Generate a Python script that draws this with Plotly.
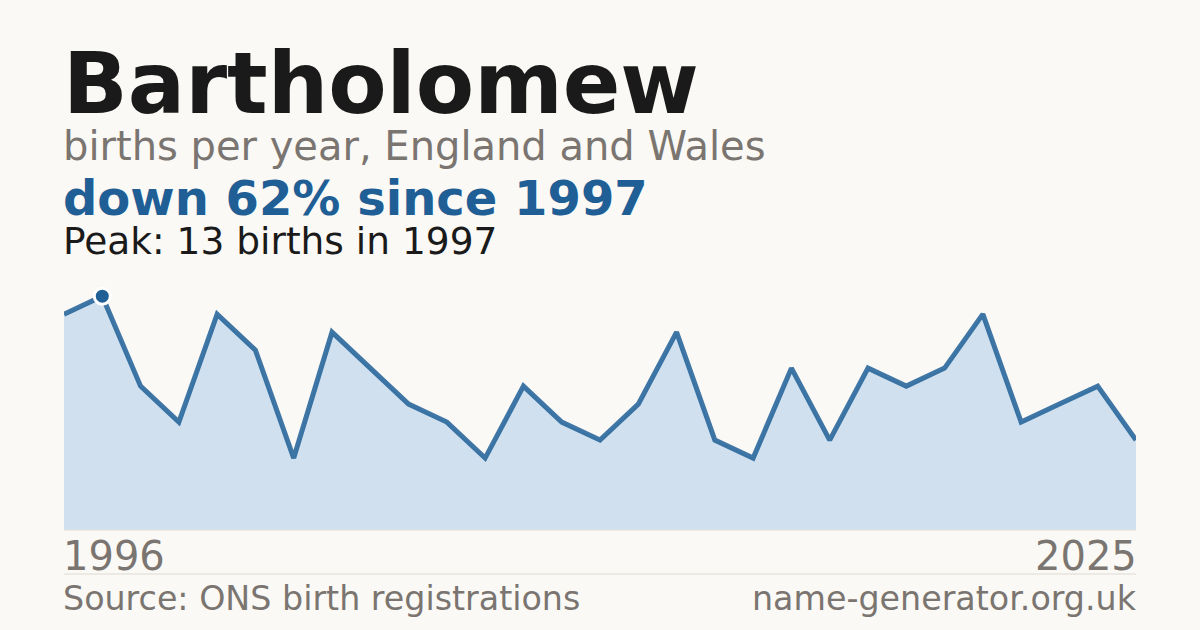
import plotly.graph_objects as go

# %% Data
name = "Bartholomew"
births = [12, 13, 8, 6, 12, 10, 4, 11, 9, 7, 6, 4, 8, 6, 5, 7, 11, 5, 4, 9, 5, 9, 8, 9, 12, 6, 7, 8, 5]
first_year = "1996"
last_year = "2025"
peak_year = "1997"

idx = list(range(len(births)))
peak_i = births.index(max(births))
pct_down = round((1 - births[-1] / max(births)) * 100)

BG = "#faf9f5"
BLUE = "#1f5f96"
GREY = "#7a7570"
FONT = "DejaVu Sans"

# plot area runs from y=280px to y=530px on the 630px canvas
TOP, BOT = 280, 530


def ypaper(px):
    return (BOT - px) / (BOT - TOP)


# %% Figure
fig = go.Figure()

fig.add_trace(go.Scatter(
    x=idx, y=births, mode="lines",
    line=dict(color="rgba(31,95,150,0.85)", width=5),
    fill="tozeroy", fillcolor="#d0e0ef",
    hoverinfo="skip", cliponaxis=False,
))
fig.add_trace(go.Scatter(
    x=[peak_i], y=[births[peak_i]], mode="markers",
    marker=dict(color=BLUE, size=16, line=dict(color="white", width=3)),
    cliponaxis=False, hoverinfo="skip",
))

fig.update_xaxes(range=[0, len(births) - 1], visible=False)
fig.update_yaxes(range=[0, 13.9], visible=False)

texts = [
    (name, 83, 85, "#1a1a1a", True, 0, "left"),
    ("births per year, England and Wales", 146, 40, GREY, False, 0, "left"),
    (f"down {pct_down}% since {peak_year}", 198, 48, BLUE, True, 0, "left"),
    (f"Peak: {max(births)} births in {peak_year}", 241, 37.5, "#1a1a1a", False, 0, "left"),
    (first_year, 556, 40, GREY, False, 0, "left"),
    (last_year, 556, 40, GREY, False, 1, "right"),
    ("Source: ONS birth registrations", 598, 33.3, GREY, False, 0, "left"),
    ("name-generator.org.uk", 598, 33.3, GREY, False, 1, "right"),
]
for txt, y, size, color, bold, side, anchor in texts:
    fig.add_annotation(
        text=f"<b>{txt}</b>" if bold else txt,
        xref="paper", yref="paper",
        x=side, y=ypaper(y),
        xshift=-3 if anchor == "left" else 3,
        showarrow=False, xanchor=anchor, yanchor="middle",
        font=dict(family=FONT, size=size, color=color),
    )

fig.add_shape(type="line", xref="paper", yref="paper", x0=0, x1=1,
              y0=ypaper(574), y1=ypaper(574),
              line=dict(color="#dddad5", width=1))
fig.add_shape(type="line", xref="paper", yref="paper", x0=0, x1=1,
              y0=0, y1=0, line=dict(color="#e2dfda", width=1))

fig.update_layout(
    width=1200, height=630,
    margin=dict(l=64, r=64, t=TOP, b=630 - BOT),
    paper_bgcolor=BG, plot_bgcolor=BG,
    showlegend=False,
    font=dict(family=FONT),
)

fig.write_html("out.html", config={"displayModeBar": False},
               post_script="document.body.style.margin='0';")
